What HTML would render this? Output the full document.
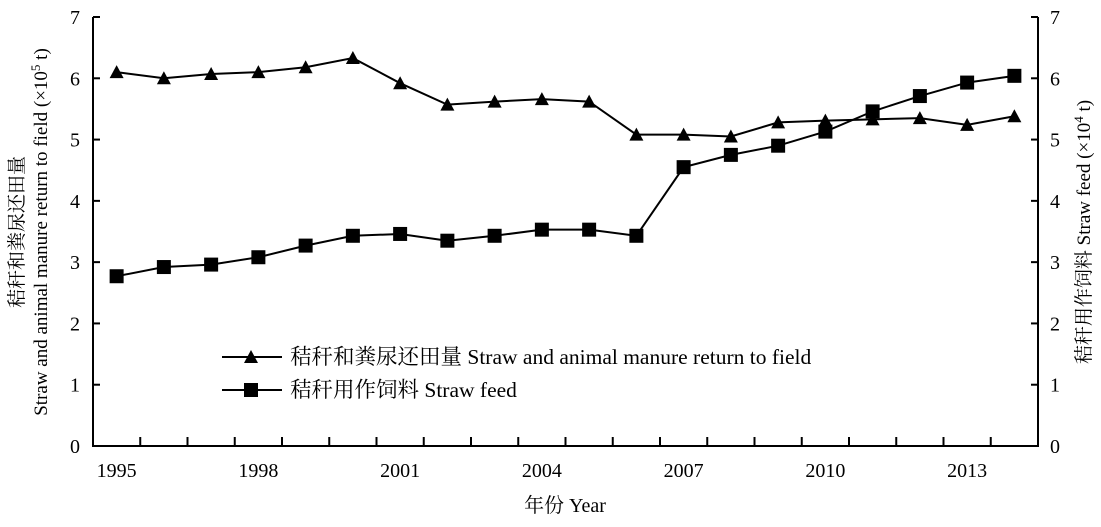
<!DOCTYPE html>
<html><head><meta charset="utf-8"><style>
body{margin:0;background:#fff}
svg text{font-family:"Liberation Serif","Noto Serif CJK SC","Noto Sans CJK SC",serif;fill:#000}
</style></head><body>
<svg width="1101" height="522" viewBox="0 0 1101 522">
<g id="g"></g>
</svg>
<script>
const years=[1995,1996,1997,1998,1999,2000,2001,2002,2003,2004,2005,2006,2007,2008,2009,2010,2011,2012,2013,2014];
const tickYears=[1995,1998,2001,2004,2007,2010,2013];
const yTicks=[0,1,2,3,4,5,6,7];
const returnVals=[6.1,6.0,6.07,6.1,6.18,6.33,5.92,5.57,5.62,5.66,5.62,5.08,5.08,5.05,5.28,5.31,5.33,5.35,5.24,5.38];
const feedVals=[2.77,2.92,2.96,3.08,3.27,3.43,3.46,3.35,3.43,3.53,3.53,3.43,4.55,4.75,4.9,5.13,5.46,5.71,5.93,6.04];
const L=93,R=1038,T=17,B=446;
const bw=(R-L)/years.length;
const x=i=>L+bw*(i+0.5);
const y=v=>B-(v/7)*(B-T);
const g=document.getElementById('g');
const NS='http://www.w3.org/2000/svg';
function mk(t,a,p){const e=document.createElementNS(NS,t);for(const k in a)e.setAttribute(k,a[k]);(p||g).appendChild(e);return e;}
function txt(s,a){const e=mk('text',a);e.textContent=s;return e;}
let e=mk('path',{d:`M${L} ${T}V${B}H${R}V${T}`,fill:'none',stroke:'#000','stroke-width':2});

yTicks.forEach(v=>{
  mk('line',{x1:L,x2:L+7,y1:y(v),y2:y(v),stroke:'#000','stroke-width':2});
  mk('line',{x1:R,x2:R-7,y1:y(v),y2:y(v),stroke:'#000','stroke-width':2});
  let t=txt(v,{x:L-13,y:y(v)+7,'font-size':20,'text-anchor':'end'});
  
  t=txt(v,{x:R+12,y:y(v)+7,'font-size':20});
  
});
for(let i=1;i<years.length;i++){mk('line',{x1:L+bw*i,x2:L+bw*i,y1:B,y2:B-9,stroke:'#000','stroke-width':2});}
tickYears.forEach(yr=>{
  const t=txt(yr,{x:x(years.indexOf(yr)),y:B+31,'font-size':20,'text-anchor':'middle'});
  
});
function series(vals,name,marker){
  const p=mk('polyline',{points:vals.map((v,i)=>x(i)+','+y(v)).join(' '),fill:'none',stroke:'#000','stroke-width':2});
  
  vals.forEach((v,i)=>{const m=marker(x(i),y(v));});
}
const tri=(cx,cy)=>mk('polygon',{points:`${cx},${cy-7} ${cx-7},${cy+6} ${cx+7},${cy+6}`,fill:'#000'});
const sq=(cx,cy)=>mk('rect',{x:cx-7,y:cy-7,width:14,height:14,fill:'#000'});
series(returnVals,'return-series',tri);
series(feedVals,'feed-series',sq);
mk('line',{x1:222,x2:282,y1:357,y2:357,stroke:'#000','stroke-width':2});tri(251,357);
let lt=txt('秸秆和粪尿还田量 Straw and animal manure return to field',{x:290,y:364,'font-size':21.5});

mk('line',{x1:222,x2:282,y1:390,y2:390,stroke:'#000','stroke-width':2});sq(251,390);
lt=txt('秸秆用作饲料 Straw feed',{x:290,y:397,'font-size':21.5});

let xt=txt('年份 Year',{x:565,y:512,'font-size':20,'text-anchor':'middle'});

let yl=mk('text',{transform:'translate(23,232) rotate(-90)','font-size':19,'text-anchor':'middle'});
yl.innerHTML='秸秆和粪尿还田量';
let yl2=mk('text',{transform:'translate(47,232) rotate(-90)','font-size':19,'text-anchor':'middle'});
yl2.innerHTML='Straw and animal manure return to field (×10<tspan dy="-7" font-size="13">5</tspan><tspan dy="7"> t)</tspan>';

let yr=mk('text',{transform:'translate(1090,232) rotate(-90)','font-size':19,'text-anchor':'middle'});
yr.innerHTML='秸秆用作饲料 Straw feed (×10<tspan dy="-7" font-size="13">4</tspan><tspan dy="7"> t)</tspan>';

</script>
</body></html>
